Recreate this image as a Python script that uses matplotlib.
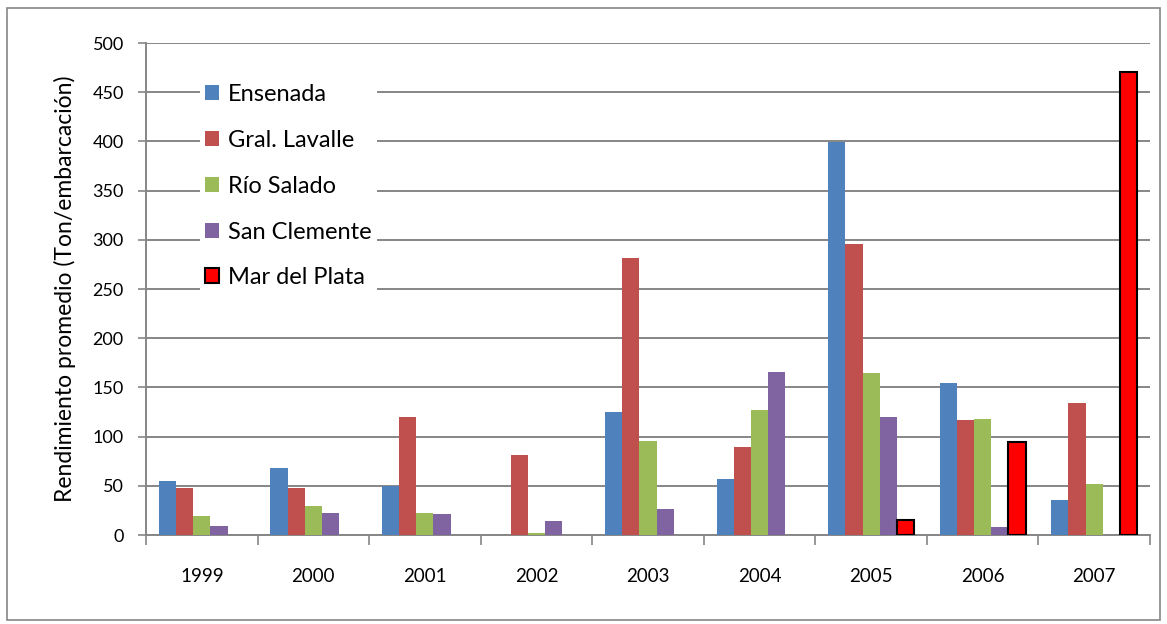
import numpy as np
import matplotlib.pyplot as plt
from matplotlib.patches import Rectangle

years = ['1999', '2000', '2001', '2002', '2003', '2004', '2005', '2006', '2007']
ensenada = [55, 68, 50, 0, 125, 57, 399, 154, 36]
gral_lavalle = [48, 48, 120, 81, 282, 89, 296, 117, 134]
rio_salado = [19, 29, 22, 2, 96, 127, 165, 118, 52]
san_clemente = [9, 22, 21, 14, 26, 166, 120, 8, 0]
mar_del_plata = [0, 0, 0, 0, 0, 0, 15, 95, 471]

series = [
    ('Ensenada', ensenada, '#4F81BD', 'none'),
    ('Gral. Lavalle', gral_lavalle, '#C0504D', 'none'),
    ('Río Salado', rio_salado, '#9BBB59', 'none'),
    ('San Clemente', san_clemente, '#8064A2', 'none'),
    ('Mar del Plata', mar_del_plata, '#FF0000', 'black'),
]

plt.rcParams['font.family'] = ['Lato', 'DejaVu Sans']

fig = plt.figure(figsize=(11.67, 6.24), dpi=100)
ax = fig.add_axes([146 / 1167, 1 - 535 / 624, (1150 - 146) / 1167, (535 - 43) / 624])

x = np.arange(len(years))
w = 1 / 6.5
for i, (name, vals, color, edge) in enumerate(series):
    pos = x - 2 * w + i * w
    if edge != 'none':
        lw = [1.5 if v > 0 else 0 for v in vals]
    else:
        lw = 0
    ax.bar(pos, vals, width=w, color=color, edgecolor=edge, linewidth=lw,
           label=name, zorder=3)

ax.set_xlim(-0.5, len(years) - 0.5)
ax.set_ylim(0, 500)
ax.set_yticks(range(0, 501, 50))
ax.set_xticks(x)
ax.set_xticklabels(years, fontsize=13.5)
ax.set_xticks(np.arange(-0.5, len(years), 1), minor=True)
ax.tick_params(axis='x', which='major', length=0, pad=24)
ax.tick_params(axis='x', which='minor', length=7, width=1.2, color='#868686', direction='out')
ax.tick_params(axis='y', length=6, width=1.2, color='#868686', labelsize=13, pad=10)

ax.yaxis.grid(True, color='#868686', linewidth=1.4, zorder=0)
ax.set_axisbelow(True)
for side in ['top', 'right']:
    ax.spines[side].set_visible(False)
for side in ['left', 'bottom']:
    ax.spines[side].set_color('#868686')
    ax.spines[side].set_linewidth(1.4)

ax.set_ylabel('Rendimiento promedio (Ton/embarcación)', fontsize=16.5, labelpad=12)

leg = ax.legend(loc='upper left', bbox_to_anchor=(0.042, 0.95), fontsize=17,
                frameon=True, framealpha=1, edgecolor='none', fancybox=False,
                handlelength=0.6, handleheight=0.6, handletextpad=0.4,
                labelspacing=1.05, borderpad=0.2)
leg.get_frame().set_linewidth(0)
leg.legend_handles[4].set_linewidth(1.5)
leg.legend_handles[4].set_edgecolor('black')

fig.patches.append(Rectangle((7 / 1167, 1 - 620 / 624), 1153 / 1167, 612 / 624,
                             transform=fig.transFigure, fill=False,
                             edgecolor='#868686', linewidth=1.2))

fig.savefig('out.png', dpi=100)
